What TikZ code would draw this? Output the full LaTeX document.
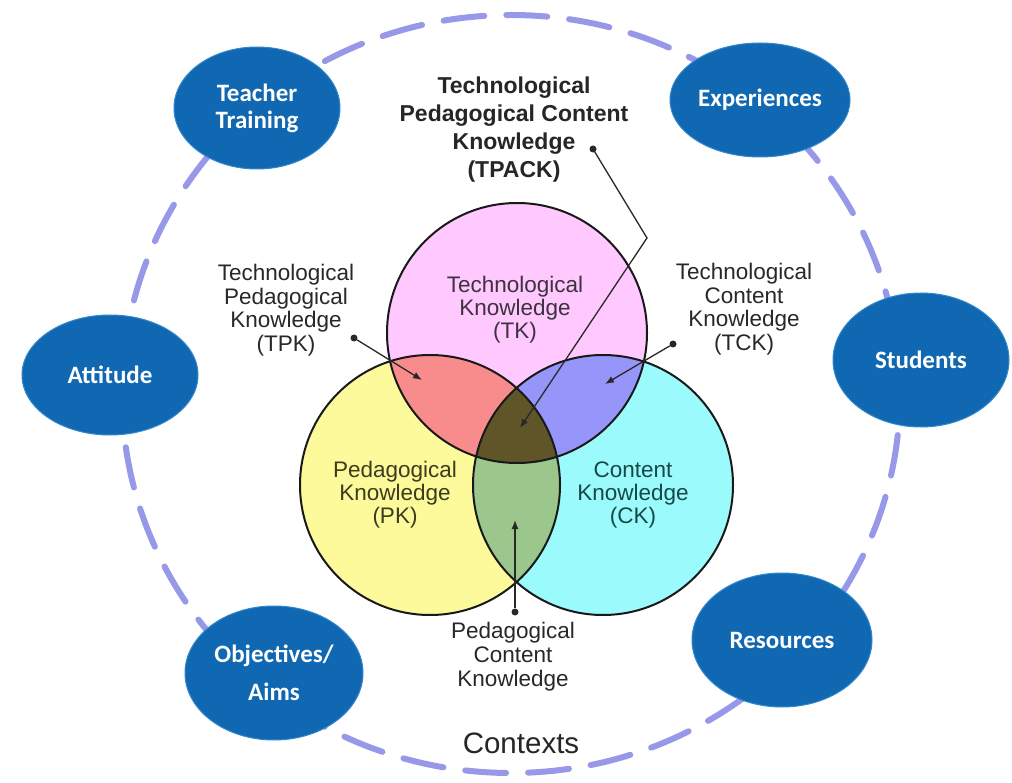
\documentclass[tikz,border=0pt]{standalone}
\usepackage{fontspec}
\setmainfont{Liberation Sans}
\newfontfamily\calib{Carlito}
\usetikzlibrary{shapes.geometric,arrows.meta}
\definecolor{ctxblue}{RGB}{16,104,178}
\definecolor{ctxedge}{RGB}{50,135,205}
\definecolor{dashcol}{RGB}{152,152,232}
\definecolor{tkfill}{RGB}{255,200,255}
\definecolor{pkfill}{RGB}{252,250,155}
\definecolor{ckfill}{RGB}{155,250,252}
\definecolor{tpkfill}{RGB}{248,140,140}
\definecolor{tckfill}{RGB}{150,150,250}
\definecolor{pckfill}{RGB}{155,198,140}
\definecolor{tpackfill}{RGB}{95,85,40}
\definecolor{labelgray}{RGB}{40,40,40}
\definecolor{tktext}{RGB}{62,50,62}
\definecolor{pktext}{RGB}{60,60,30}
\definecolor{cktext}{RGB}{22,72,72}
\begin{document}
\begin{tikzpicture}[x=1pt,y=-1pt,
  ctx/.style={ellipse, fill=ctxblue, draw=ctxedge, line width=1pt, inner sep=0pt, text=white, font=\calib\bfseries\fontsize{25}{27}\selectfont, align=center},
  lbl/.style={text=labelgray, align=center, font=\fontsize{22.5}{23.5}\selectfont, inner sep=0pt},
  inlbl/.style={align=center, font=\fontsize{22.5}{23}\selectfont, inner sep=0pt},
  dot/.style={circle, fill=labelgray, inner sep=0pt, minimum size=7pt},
  pointer/.style={draw=labelgray, line width=1.3pt, -{Latex[length=9pt,width=7pt]}},
  vennline/.style={draw=black!90, line width=2pt}
]
\fill[white] (0,0) rectangle (1012,783);
\useasboundingbox (0,0) rectangle (1012,783);

% outer dashed context ellipse
\draw[dashcol, line width=6pt, line cap=round, dash pattern=on 41pt off 22pt] (511,394) ellipse [x radius=389pt, y radius=379pt];

% context ellipses
\node[ctx, minimum width=166pt, minimum height=122pt] (teacher) at (257,108) {Teacher\\Training};
\node[ctx, minimum width=180pt, minimum height=114pt] (exper) at (760,100) {Experiences};
\node[ctx, minimum width=176pt, minimum height=120pt] (attitude) at (110,375) {Attitude};
\node[ctx, minimum width=176pt, minimum height=134pt] (students) at (921,360) {Students};
\node[ctx, minimum width=178pt, minimum height=134pt] (objectives) at (274,673) {Objectives/\\[11pt]Aims};
\node[ctx, minimum width=180pt, minimum height=134pt] (resources) at (782,640) {Resources};

% Venn circles
\fill[pkfill] (430,485) circle[radius=130pt];
\fill[ckfill] (603,485) circle[radius=130pt];
\fill[tkfill] (517,333) circle[radius=130pt];
\begin{scope}
  \clip (517,333) circle[radius=130pt];
  \fill[tpkfill] (430,485) circle[radius=130pt];
  \fill[tckfill] (603,485) circle[radius=130pt];
\end{scope}
\begin{scope}
  \clip (430,485) circle[radius=130pt];
  \fill[pckfill] (603,485) circle[radius=130pt];
  \clip (603,485) circle[radius=130pt];
  \fill[tpackfill] (517,333) circle[radius=130pt];
\end{scope}
\draw[vennline] (517,333) circle[radius=130pt];
\draw[vennline] (430,485) circle[radius=130pt];
\draw[vennline] (603,485) circle[radius=130pt];

% labels
\node[inlbl, text=tktext] (tklab) at (515,310) {Technological\\Knowledge\\(TK)};
\node[inlbl, text=pktext] (pklab) at (395,495) {Pedagogical\\Knowledge\\(PK)};
\node[inlbl, text=cktext] (cklab) at (633,495) {Content\\Knowledge\\(CK)};
\node[lbl] (tpklab) at (286,310) {Technological\\Pedagogical\\Knowledge\\(TPK)};
\node[lbl] (tcklab) at (744,309) {Technological\\Content\\Knowledge\\(TCK)};
\node[lbl, font=\bfseries\fontsize{23}{28}\selectfont, text=black!85] (tpacklab) at (514,130) {Technological\\Pedagogical Content\\Knowledge\\(TPACK)};
\node[lbl, font=\fontsize{22.5}{24}\selectfont] (pcklab) at (513,657) {Pedagogical\\Content\\Knowledge};
\node[lbl, font=\fontsize{29.5}{30}\selectfont, text=black!85] (contexts) at (521,743) {Contexts};

% pointers
\node[dot] (tpkdot) at (354,338) {};
\coordinate (tpktip) at (422,380);
\draw[pointer] (tpkdot) -- (tpktip);
\node[dot] (tckdot) at (673,344) {};
\coordinate (tcktip) at (605,384);
\draw[pointer] (tckdot) -- (tcktip);
\node[dot] (tpackdot) at (593,149) {};
\coordinate (tpackbend) at (647,238);
\coordinate (tpacktip) at (520,428);
\draw[pointer] (tpackdot.center) -- (tpackbend) -- (tpacktip);
\node[dot] (pckdot) at (515,612) {};
\coordinate (pcktip) at (515,520);
\draw[pointer] (pckdot) -- (pcktip);
\end{tikzpicture}
\end{document}
